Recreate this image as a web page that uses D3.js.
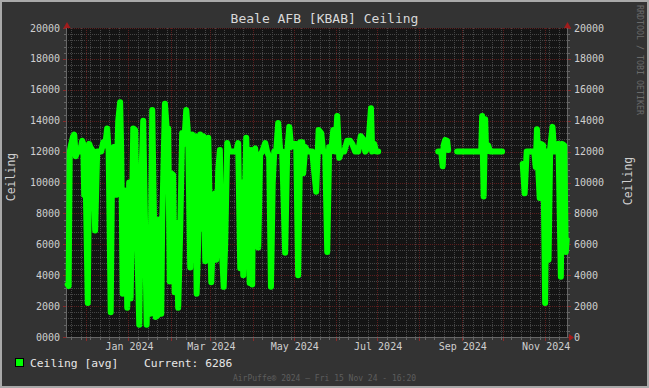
<!DOCTYPE html>
<html><head><meta charset="utf-8">
<script src="https://cdn.jsdelivr.net/npm/d3@7"></script>
<style>html,body{margin:0;padding:0;background:#333;}svg{display:block;}</style>
</head><body>
<svg id="c" width="649" height="388"></svg>
<script>
// ---- data ----
const title = "Beale AFB [KBAB] Ceiling";
const seriesName = "Ceiling [avg]";
const currentValue = 6286;
const startDate = Date.UTC(2023, 10, 17); // 17 Nov 2023
const endDate = Date.UTC(2024, 10, 17);
// days since start date (null = gap)
const dayOffsets = [
  0.5,1.2,2.0,3.1,4.5,5.3,6.4,7.5,9.7,11.1,11.9,12.6,13.3,14.8,15.2,16.3,17.0,19.2,20.6,22.1,
  25.0,26.5,28.0,29.4,30.5,32.0,33.1,34.2,36.0,37.5,38.9,39.7,40.8,41.9,43.0,44.1,45.5,46.6,48.5,49.9,
  51.4,52.9,54.3,55.8,57.2,58.3,59.4,60.9,62.4,63.8,64.9,66.4,67.5,69.0,69.7,71.7,73.0,74.1,75.2,76.3,
  77.7,78.8,79.9,81.4,82.9,84.3,85.8,87.3,88.7,90.2,91.6,92.7,93.8,94.9,96.0,97.5,98.6,99.7,101.2,103.4,
  105.6,107.0,108.5,109.2,110.7,111.9,112.9,114.7,115.8,117.3,118.7,121.7,123.9,125.3,126.8,127.9,129.0,131.2,132.6,133.7,
  134.8,135.6,136.3,137.8,140.0,141.4,142.9,145.1,146.5,148.0,149.3,150.6,151.7,153.1,154.6,156.1,157.5,159.7,161.2,162.7,
  164.1,166.3,167.8,169.2,170.7,172.2,172.9,174.4,176.2,179.5,182.4,184.2,186.1,187.5,189.0,190.5,191.9,193.4,194.9,196.3,
  197.8,199.3,200.7,202.9,205.1,207.3,208.8,211.0,213.2,215.0,216.8,218.3,220.5,222.5,223.4,224.9,226.3,227.8,
  228.5,
  271.7,273.9,275.0,275.7,276.8,278.3,279.0,
  280.0,
  285.6,303.2,303.9,305.0,306.1,306.8,308.3,309.7,318.5,
  320.0,
  333.6,335.0,336.5,342.0,343.1,344.0,344.9,346.0,347.1,348.6,350.0,351.1,352.5,353.7,355.4,356.6,358.1,359.8,361.5,362.5,
  364.0,365.1,365.8
];
const ceilingValues = [
  3400,3300,12000,12500,13000,13100,11700,12000,12000,12700,12500,9200,12000,4400,2200,12500,12300,12000,6900,12000,
  12000,12600,12400,13500,12000,1600,12000,12300,9200,14000,15200,12000,2800,9500,9400,1900,10000,2500,13500,13400,
  6000,800,10000,14000,7000,800,6500,1500,14700,7000,1300,1400,7600,1500,7500,15100,13500,13500,3600,10600,
  10500,2900,7400,1900,7000,13200,12500,14700,13000,4500,13100,5000,13000,2800,6000,13100,7000,13000,4900,12900,
  3550,6800,9300,5000,10800,12100,6500,3250,6000,12550,12000,12000,12000,12550,4450,10000,4000,12900,9000,3500,
  12100,3400,12000,12200,5800,11800,12000,12550,12000,11650,3250,10000,12000,12000,13850,12000,12000,5450,12000,13600,
  12300,12500,12500,4000,12600,12600,10600,12300,12000,12000,9400,13400,13200,12000,12000,5500,12300,12000,13400,12000,
  14300,11600,12000,12000,12700,12700,12500,12000,12000,13000,12800,12000,12300,14800,12000,12500,12000,12000,
  null,
  12000,12000,11050,12400,12750,12700,12100,
  null,
  12000,12000,14300,9100,14100,12000,12400,12000,12000,
  null,
  11200,9300,12000,12000,11000,13450,11000,9000,12500,12400,2200,12000,5000,12200,13600,12000,12000,12500,3900,12500,
  12400,5500,6286
];
const yTicks = [0,2000,4000,6000,8000,10000,12000,14000,16000,18000,20000];
const leftTickLabels = ["0000","2000","4000","6000","8000","10000","12000","14000","16000","18000","20000"];
const rightTickLabels = ["0","2000","4000","6000","8000","10000","12000","14000","16000","18000","20000"];
const footer = "AirPuffe\u00ae 2024 \u2014 Fri 15 Nov 24 - 16:20";
const watermark = "RRDTOOL / TOBI OETIKER";

// ---- drawing ----
const svg = d3.select("#c");
const FONT = "'DejaVu Sans Mono', monospace";
const L = 67, R = 567, T = 28, B = 337;

svg.append("rect").attr("width",649).attr("height",388).attr("fill","#a9a9a9");
svg.append("rect").attr("x",2).attr("y",2).attr("width",645).attr("height",384).attr("fill","#333333");

const x = d3.scaleUtc().domain([new Date(startDate), new Date(endDate)]).range([L, R]);
const y = d3.scaleLinear().domain([0, 20000]).range([B, T]);

svg.append("rect").attr("x",L).attr("y",T).attr("width",R-L).attr("height",B-T).attr("fill","#141414");

// dotted patterns (pixel aligned)
const minorCol = "#464646", majorCol = "#5c1e1e";
const defs = svg.append("defs");
function dotPattern(id, w, h, col) {
  const p = defs.append("pattern").attr("id",id).attr("patternUnits","userSpaceOnUse")
    .attr("width",w).attr("height",h);
  p.append("rect").attr("width",1).attr("height",1).attr("fill",col);
}
dotPattern("hMinor", 2, 1, minorCol);
dotPattern("vMinor", 1, 2, minorCol);
dotPattern("hMajor", 2, 1, majorCol);
dotPattern("vMajor", 1, 2, majorCol);

const grid = svg.append("g").attr("shape-rendering","crispEdges");
const hLine = (v, pat) => grid.append("rect").attr("x",L).attr("y",Math.round(y(v)))
  .attr("width",R-L).attr("height",1).attr("fill",`url(#${pat})`);
const vLine = (d, pat) => grid.append("rect").attr("x",Math.round(x(d))).attr("y",T)
  .attr("width",1).attr("height",B-T).attr("fill",`url(#${pat})`);
const tick = (x1,y1,x2,y2,col) => grid.append("line").attr("x1",x1).attr("y1",y1).attr("x2",x2).attr("y2",y2).attr("stroke",col);

// horizontal minor grid
d3.range(400, 20000, 400).filter(v => v % 2000 !== 0).forEach(v => {
  hLine(v, "hMinor");
  const yy = Math.round(y(v)) + 0.5;
  tick(L-3, yy, L, yy, "#666");
  tick(R, yy, R+3, yy, "#666");
});
// vertical minor grid (weekly)
d3.utcMonday.range(x.domain()[0], x.domain()[1]).forEach(d => {
  if (d3.utcMonth.floor(d).getTime() === d.getTime()) return;
  vLine(d, "vMinor");
  const xx = Math.round(x(d)) + 0.5;
  tick(xx, B, xx, B+3, "#666");
});
// major horizontal
yTicks.forEach(v => {
  if (v > 0) hLine(v, "hMajor");
  const yy = Math.round(y(v)) + 0.5;
  tick(L-4, yy, L, yy, "#8a2a2a");
  tick(R, yy, R+4, yy, "#8a2a2a");
});
// major vertical (months)
const months = d3.utcMonth.range(x.domain()[0], x.domain()[1]);
months.forEach(d => {
  vLine(d, "vMajor");
  const xx = Math.round(x(d)) + 0.5;
  tick(xx, B, xx, B+4, "#8a2a2a");
});

// axes lines
svg.append("line").attr("x1",L-0.5).attr("x2",L-0.5).attr("y1",T).attr("y2",B+0.5).attr("stroke","#666");
svg.append("line").attr("x1",R+0.5).attr("x2",R+0.5).attr("y1",T).attr("y2",B+0.5).attr("stroke","#666");
svg.append("line").attr("x1",L-0.5).attr("x2",R+1).attr("y1",B+0.5).attr("y2",B+0.5).attr("stroke","#666");
// arrows
const arrowCol = "#a01c1c";
svg.append("path").attr("d",`M${L-3.5},${T} L${L+3.5},${T} L${L},${T-6} Z`).attr("fill",arrowCol);
svg.append("path").attr("d",`M${R-3},${T} L${R+4},${T} L${R+0.5},${T-6} Z`).attr("fill",arrowCol);
svg.append("path").attr("d",`M${R+2},${B-3} L${R+2},${B+4} L${R+7},${B+0.5} Z`).attr("fill",arrowCol);

// data line
const pts = dayOffsets.map((d,i) => ({t: new Date(startDate + d*86400000), v: ceilingValues[i]}));
const line = d3.line().defined(p => p.v !== null).x(p => x(p.t)).y(p => y(p.v));
svg.append("path").datum(pts).attr("d", line).attr("fill","none")
  .attr("stroke","#00ff00").attr("stroke-width",6).attr("stroke-linejoin","round").attr("stroke-linecap","round");

// axis labels
const txt = (xx, yy, s, size, fill, anchor) => svg.append("text").attr("x",xx).attr("y",yy).text(s)
  .attr("font-family",FONT).attr("font-size",size).attr("fill",fill).attr("text-anchor",anchor||"start");
yTicks.forEach((v,i) => {
  txt(60, y(v)+3.5, leftTickLabels[i], 10, "#cfcfcf", "end");
  txt(574, y(v)+3.5, rightTickLabels[i], 10, "#cfcfcf", "start");
});
const fmt = d3.utcFormat("%b %Y");
months.filter(d => d.getUTCMonth() % 2 === 0).forEach(d => {
  txt(x(d)+1, 350, fmt(d), 10, "#cfcfcf", "middle");
});

// titles
txt(324.5, 23, title, 13, "#d8d8d8", "middle");
svg.append("text").attr("transform","translate(15,177) rotate(-90)").attr("text-anchor","middle")
  .attr("font-family",FONT).attr("font-size",11.5).attr("fill","#cfcfcf").text("Ceiling");
svg.append("text").attr("transform","translate(632,181) rotate(-90)").attr("text-anchor","middle")
  .attr("font-family",FONT).attr("font-size",11.5).attr("fill","#cfcfcf").text("Ceiling");
svg.append("text").attr("transform","translate(637,5) rotate(90)").attr("text-anchor","start")
  .attr("font-family",FONT).attr("font-size",8.3).attr("fill","#6a6a6a").text(watermark);

// legend
svg.append("rect").attr("x",15.5).attr("y",358.5).attr("width",8).attr("height",8)
  .attr("fill","#00ff00").attr("stroke","#000");
txt(30, 367, seriesName, 11.3, "#e6e6e6", "start");
txt(144, 367, "Current: " + currentValue, 11.3, "#e6e6e6", "start");
txt(324.5, 381, footer, 8, "#5e5e5e", "middle");
</script>
</body></html>
